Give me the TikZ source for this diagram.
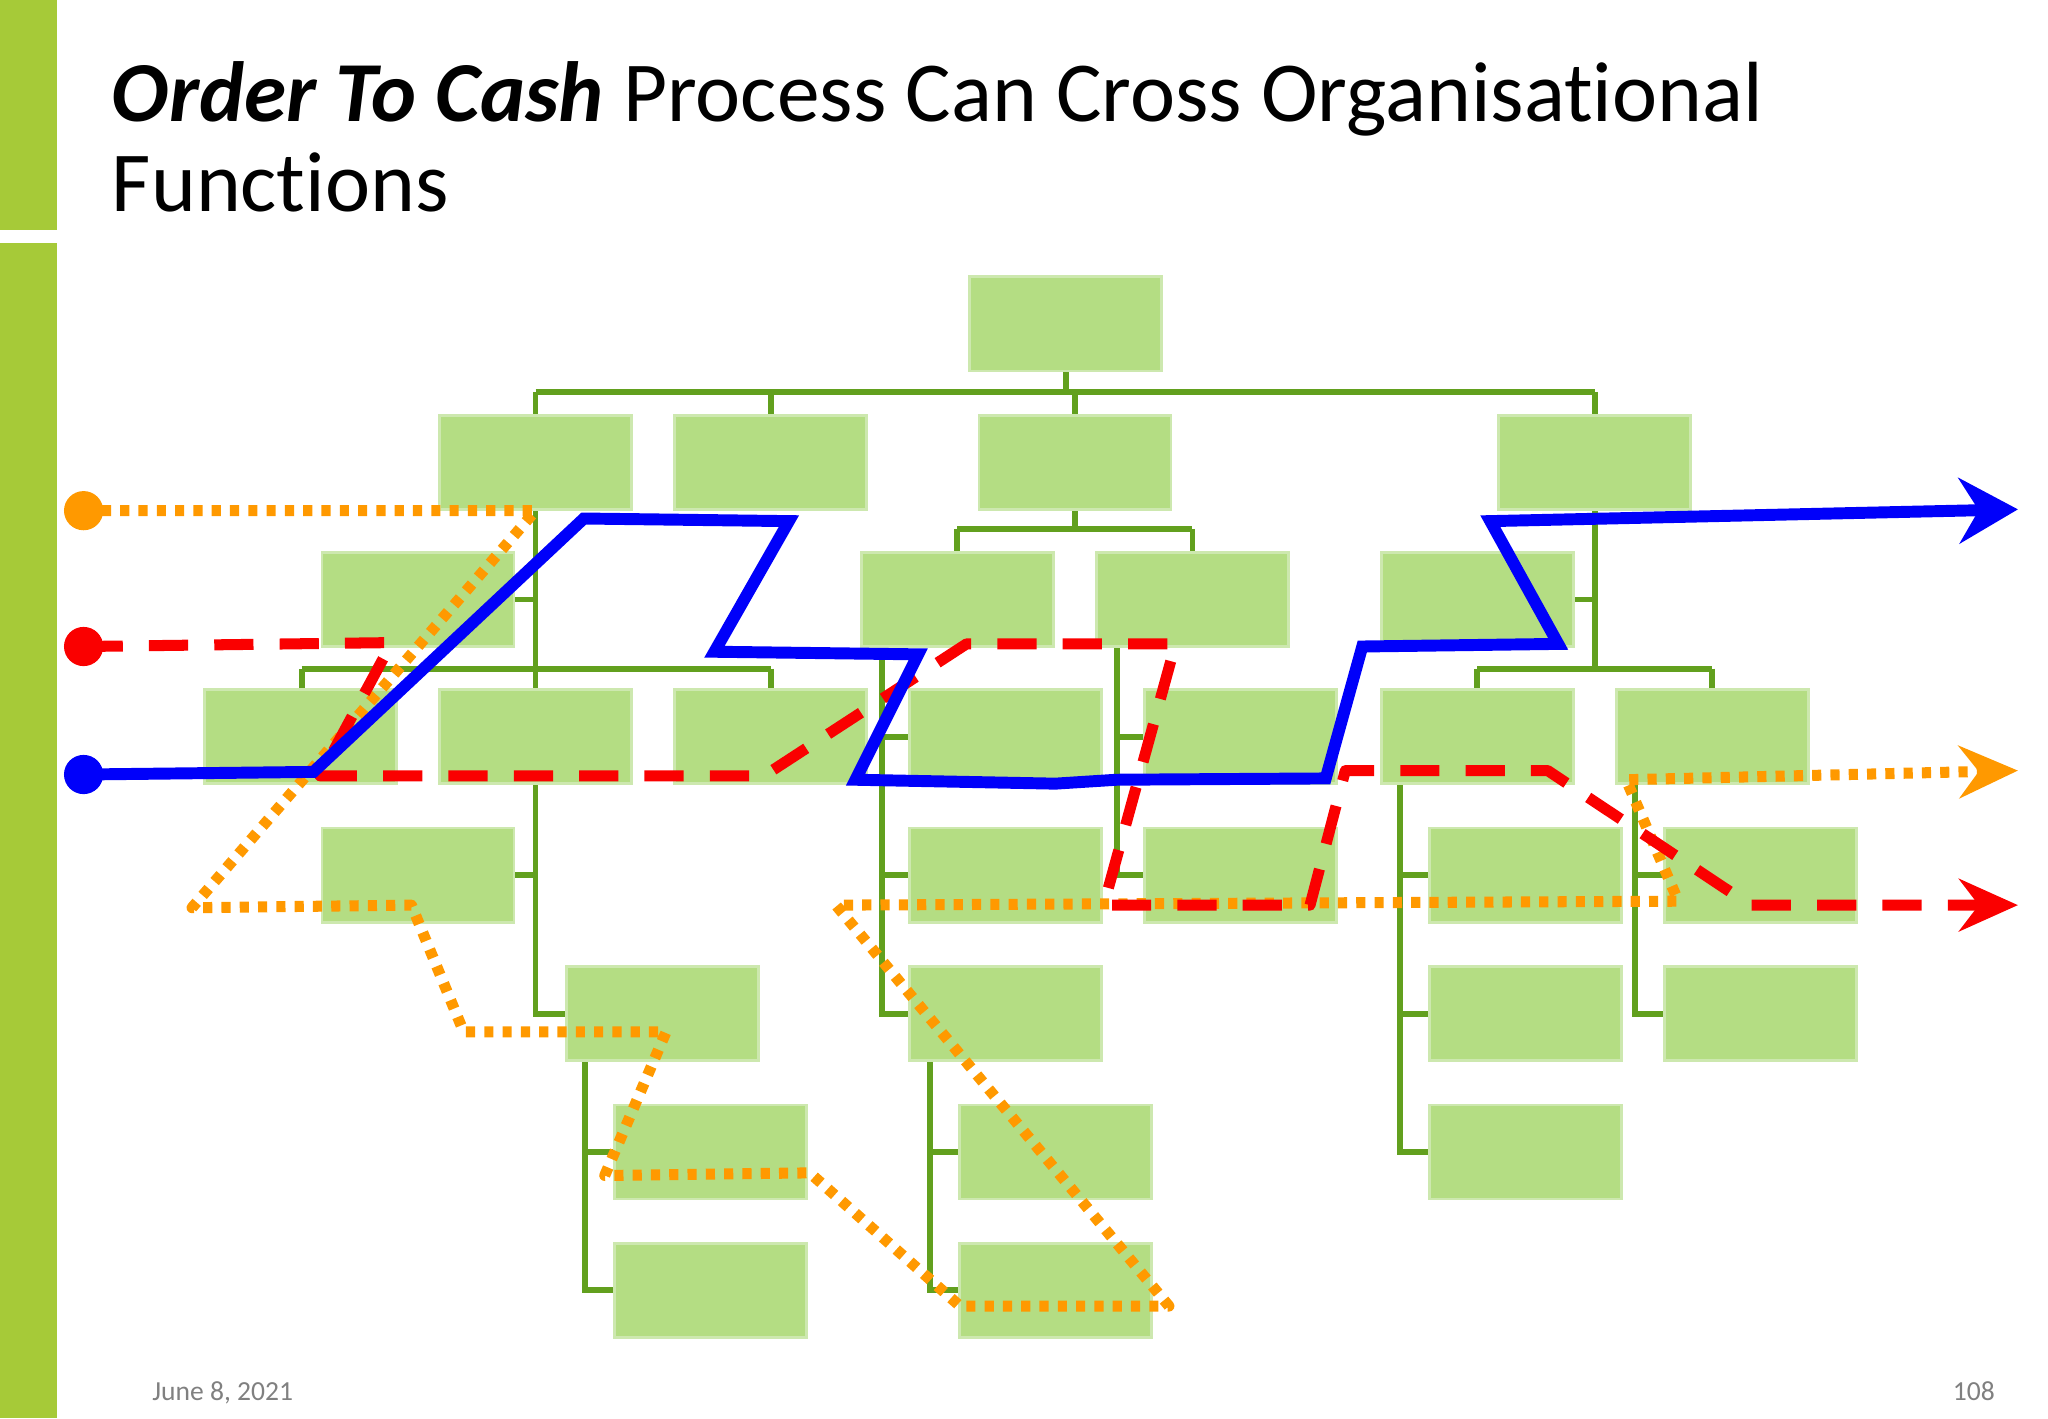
\documentclass[tikz,border=0pt]{standalone}
\usepackage{fontspec}
\setmainfont[Ligatures={NoCommon,NoRare,NoContextual}]{Carlito}
\usetikzlibrary{arrows.meta}
\definecolor{barGreen}{RGB}{166,202,56}
\definecolor{boxFill}{RGB}{180,221,131}
\definecolor{boxLine}{RGB}{205,232,175}
\definecolor{treeLine}{RGB}{98,160,30}
\definecolor{pathBlue}{RGB}{0,0,250}
\definecolor{pathRed}{RGB}{250,0,0}
\definecolor{pathOrange}{RGB}{255,153,0}
\begin{document}
\begin{tikzpicture}[x=0.01cm, y=-0.01cm,
    box/.style={rectangle, draw=boxLine, fill=boxFill, line width=0.6pt, minimum width=1.47cm, minimum height=0.72cm, inner sep=0pt},
    tree/.style={draw=treeLine, line width=1.3pt},
    dot/.style={circle, minimum size=0.3cm, inner sep=0pt},
    blueflow/.style={draw=pathBlue, line width=2.6pt, line join=miter, -{Stealth[length=0.45cm, width=0.5cm, inset=0.15cm]}},
    redflow/.style={draw=pathRed, line width=2.4pt, line join=round, dash pattern=on 0.3cm off 0.2cm, -{Stealth[length=0.45cm, width=0.4cm, inset=0.15cm]}},
    orangeflow/.style={draw=pathOrange, line width=2.4pt, line join=round, dash pattern=on 0.07cm off 0.07cm, -{Stealth[length=0.45cm, width=0.4cm, inset=0.15cm]}}
]
    \useasboundingbox (0,0) rectangle (1568,1086);
    % side bar
    \fill[barGreen] (0,0) rectangle (44,176);
    \fill[barGreen] (0,186) rectangle (44,1086);

    % title
    \node[anchor=base west, font=\fontsize{18.6}{22}\selectfont, inner sep=0pt] (title1) at (85,93) {\textbf{\textit{Order To Cash}} Process Can Cross Organisational};
    \node[anchor=base west, font=\fontsize{18.6}{22}\selectfont, inner sep=0pt] (title2) at (85,162) {Functions};

    % tree lines
    \draw[tree] (816,284) -- (816,300);
    \draw[tree] (410,300) -- (1221,300);
    \foreach \x in {410,590,823,1221} \draw[tree] (\x,300) -- (\x,318);
    % branch A
    \draw[tree] (410,390) -- (410,776) -- (434,776);
    \draw[tree] (394,459) -- (410,459);
    \draw[tree] (394,670) -- (410,670);
    \draw[tree] (231,512) -- (590,512);
    \foreach \x in {231,590} \draw[tree] (\x,512) -- (\x,528);
    \draw[tree] (448,812) -- (448,988) -- (471,988);
    \draw[tree] (448,882) -- (471,882);
    % branch C
    \draw[tree] (823,390) -- (823,405);
    \draw[tree] (733,405) -- (913,405);
    \foreach \x in {733,913} \draw[tree] (\x,405) -- (\x,423);
    \draw[tree] (675,495) -- (675,776) -- (697,776);
    \foreach \y in {564,670} \draw[tree] (675,\y) -- (697,\y);
    \draw[tree] (712,812) -- (712,988) -- (735,988);
    \draw[tree] (712,882) -- (735,882);
    \draw[tree] (855,495) -- (855,670) -- (877,670);
    \draw[tree] (855,564) -- (877,564);
    % branch D
    \draw[tree] (1221,390) -- (1221,512);
    \draw[tree] (1204,459) -- (1221,459);
    \draw[tree] (1131,512) -- (1311,512);
    \foreach \x in {1131,1311} \draw[tree] (\x,512) -- (\x,528);
    \draw[tree] (1072,600) -- (1072,882) -- (1095,882);
    \foreach \y in {670,776} \draw[tree] (1072,\y) -- (1095,\y);
    \draw[tree] (1252,600) -- (1252,776) -- (1275,776);
    \draw[tree] (1252,670) -- (1275,670);

    % boxes
    \node[box] (ceo) at (816,248) {};
    \node[box] (fa) at (410,354) {};
    \node[box] (fb) at (590,354) {};
    \node[box] (fc) at (823,354) {};
    \node[box] (fd) at (1221,354) {};
    \node[box] (a1) at (320,459) {};
    \node[box] (a2) at (230,564) {};
    \node[box] (a3) at (410,564) {};
    \node[box] (a4) at (590,564) {};
    \node[box] (a5) at (320,670) {};
    \node[box] (a6) at (507,776) {};
    \node[box] (a7) at (544,882) {};
    \node[box] (a8) at (544,988) {};
    \node[box] (c1) at (733,459) {};
    \node[box] (c2) at (913,459) {};
    \node[box] (c3) at (770,564) {};
    \node[box] (c4) at (770,670) {};
    \node[box] (c5) at (770,776) {};
    \node[box] (c6) at (808,882) {};
    \node[box] (c7) at (808,988) {};
    \node[box] (c8) at (950,564) {};
    \node[box] (c9) at (950,670) {};
    \node[box] (d1) at (1131,459) {};
    \node[box] (d2) at (1131,564) {};
    \node[box] (d3) at (1311,564) {};
    \node[box] (d4) at (1168,670) {};
    \node[box] (d5) at (1168,776) {};
    \node[box] (d6) at (1168,882) {};
    \node[box] (d7) at (1348,670) {};
    \node[box] (d8) at (1348,776) {};

    % process flows
    \coordinate (blueEnd) at (1545,390);
    \coordinate (redEnd) at (1545,693);
    \coordinate (orangeEnd) at (1545,590);
    \draw[orangeflow] (64,391) -- (410,391) -- (147,695) -- (315,693) -- (355,790) -- (510,790) -- (463,900) -- (620,898) -- (735,1000) -- (895,1000) -- (640,693) -- (1285,690) -- (1245,597) -- (orangeEnd);
    \draw[redflow] (64,495) -- (300,492) -- (245,594) -- (585,594) -- (740,493) -- (900,493) -- (845,693) -- (1003,693) -- (1030,590) -- (1185,590) -- (1340,693) -- (redEnd);
    \draw[blueflow] (64,593) -- (240,591) -- (447,397) -- (604,399) -- (547,499) -- (703,501) -- (655,597) -- (808,600) -- (855,597) -- (1015,596) -- (1043,495) -- (1193,493) -- (1141,399) -- (blueEnd);
    \node[dot, fill=pathOrange] (orangeStart) at (64,391) {};
    \node[dot, fill=pathRed] (redStart) at (64,495) {};
    \node[dot, fill=pathBlue] (blueStart) at (64,593) {};

    % footer
    \node[anchor=base west, font=\fontsize{6}{7}\selectfont, text=gray, inner sep=0pt] (date) at (116,1072) {June 8, 2021};
    \node[anchor=base east, font=\fontsize{6}{7}\selectfont, text=gray, inner sep=0pt] (page) at (1528,1072) {108};
\end{tikzpicture}
\end{document}
